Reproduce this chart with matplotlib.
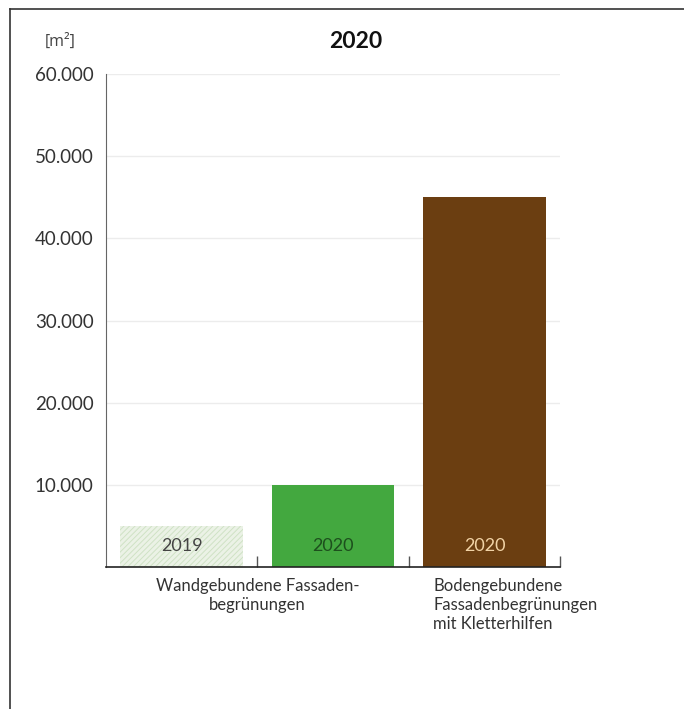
import matplotlib.pyplot as plt
from matplotlib.lines import Line2D
from matplotlib.ticker import FuncFormatter

plt.rcParams["font.family"] = ["Lato", "DejaVu Sans"]
plt.rcParams["hatch.linewidth"] = 0.7

# data
bar_labels = ["2019", "2020", "2020"]
values = [5000, 10000, 45000]
categories = ["Wandgebundene Fassaden-\nbegrünungen",
              "Bodengebundene\nFassadenbegrünungen\nmit Kletterhilfen"]
y_ticks = [10000, 20000, 30000, 40000, 50000, 60000]

bar_colors = ["#ebf2e6", "#43a83f", "#6b3e11"]
edge_colors = ["#cfe2c5", "none", "none"]
text_colors = ["#444444", "#1d4f1d", "#f2d3a6"]
hatches = ["//////", None, None]

fig = plt.figure(figsize=(6.84, 7.09), dpi=100)
ax = fig.add_axes([0.155, 0.2003, 0.664, 0.6953])

x = list(range(len(values)))
for i, v in enumerate(values):
    ax.bar(x[i], v, width=0.81, color=bar_colors[i], hatch=hatches[i],
           edgecolor=edge_colors[i], linewidth=0, zorder=2)
    ax.text(x[i], 2500, bar_labels[i], ha="center", va="center",
            fontsize=13, color=text_colors[i], zorder=3)

ax.set_xlim(-0.5, 2.5)
ax.set_ylim(0, 60000)
ax.set_yticks(y_ticks)
ax.yaxis.set_major_formatter(FuncFormatter(lambda v, p: f"{int(v):,}".replace(",", ".")))
ax.tick_params(axis="y", length=0, labelsize=13.5, labelcolor="#333333", pad=9)
ax.yaxis.grid(True, color="#ececec", linewidth=1, zorder=0)
ax.set_axisbelow(True)

ax.set_xticks([0.5, 1.5, 2.5])
ax.set_xticklabels([])
ax.tick_params(axis="x", direction="in", length=8, width=1, color="#555555")

for s in ["top", "right"]:
    ax.spines[s].set_visible(False)
ax.spines["left"].set_color("#666666")
ax.spines["left"].set_linewidth(0.8)
ax.spines["bottom"].set_color("#222222")
ax.spines["bottom"].set_linewidth(1.2)

ax.text(0.5, -0.022, categories[0], transform=ax.get_xaxis_transform(),
        ha="center", va="top", fontsize=12, color="#333333", linespacing=1.25)
ax.text(1.66, -0.022, categories[1], transform=ax.get_xaxis_transform(),
        ha="left", va="top", fontsize=12, color="#333333", linespacing=1.25)

fig.text(0.52, 1 - 42 / 709, "2020", ha="center", va="center",
         fontsize=16.5, fontweight="bold", color="#111111")
fig.text(0.088, 1 - 42 / 709, "[m²]", ha="center", va="center",
         fontsize=11.5, color="#444444", family=["Open Sans", "DejaVu Sans"])

# frame lines at left and top edge
fig.add_artist(Line2D([10 / 684, 10 / 684], [0, 1 - 9 / 709],
                      transform=fig.transFigure, color="#333333", lw=1.2))
fig.add_artist(Line2D([10 / 684, 1], [1 - 9 / 709, 1 - 9 / 709],
                      transform=fig.transFigure, color="#333333", lw=1.2))

fig.savefig("out.png", dpi=100)
